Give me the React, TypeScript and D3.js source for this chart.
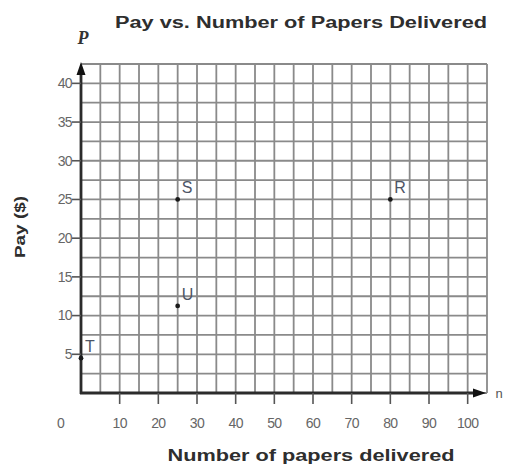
import React from "react";
import { scaleLinear, range } from "d3";

// data
const pointNames = ["S", "R", "U", "T"];
const papers = [25, 80, 25, 0];
const pay = [25, 25, 11.25, 4.5];

const xTicks = [10, 20, 30, 40, 50, 60, 70, 80, 90, 100];
const yTicks = [5, 10, 15, 20, 25, 30, 35, 40];

const W = 510;
const H = 468;

export default function App() {
  const x = scaleLinear().domain([0, 105]).range([81, 487]);
  const y = scaleLinear().domain([0, 42.5]).range([393, 64]);

  const xGrid = range(0, 105.1, 5);
  const yGrid = range(0, 42.6, 2.5);

  const gridColor = "#8a8a8a";
  const axisColor = "#2b2b2b";
  const tickText = "#666";
  const font = "'Liberation Sans', Arial, sans-serif";

  return (
    <svg
      width={W}
      height={H}
      style={{ position: "absolute", left: 0, top: 0, background: "#fff" }}
      fontFamily={font}
    >
      {/* grid */}
      {xGrid.map((v, i) => (
        <line key={"gx" + i} x1={x(v)} x2={x(v)} y1={y(42.5)} y2={y(0)}
          stroke={gridColor} strokeWidth={1.8} />
      ))}
      {yGrid.map((v, i) => (
        <line key={"gy" + i} x1={x(0)} x2={x(105)} y1={y(v)} y2={y(v)}
          stroke={gridColor} strokeWidth={1.8} />
      ))}

      {/* axes */}
      <line x1={x(0)} x2={x(0)} y1={y(0) + 1} y2={y(42.5) + 8} stroke={axisColor} strokeWidth={2.8} />
      <path d={`M${x(0)},${y(42.5) - 2} L${x(0) - 4.5},${y(42.5) + 11} L${x(0) + 4.5},${y(42.5) + 11} Z`} fill="#111" />
      <line x1={x(0) - 1} x2={x(105) - 10} y1={y(0)} y2={y(0)} stroke={axisColor} strokeWidth={2.8} />
      <path d={`M${x(105) - 1},${y(0)} L${x(105) - 14},${y(0) - 4.5} L${x(105) - 14},${y(0) + 4.5} Z`} fill="#111" />

      {/* y ticks */}
      {yTicks.map((v) => (
        <g key={"yt" + v}>
          <line x1={x(0) - 9} x2={x(0)} y1={y(v)} y2={y(v)} stroke="#555" strokeWidth={1.6} />
          <text x={x(0) - 9} y={y(v)} dy="0.35em" textAnchor="end" fontSize={14} fill={tickText}
            letterSpacing={-0.6}>{v}</text>
        </g>
      ))}

      {/* x ticks */}
      {xTicks.map((v) => (
        <g key={"xt" + v}>
          <line x1={x(v)} x2={x(v)} y1={y(0)} y2={y(0) + 11} stroke="#555" strokeWidth={1.6} />
          <text x={x(v)} y={y(0) + 30} dy="0.35em" textAnchor="middle" fontSize={14} fill={tickText}
            letterSpacing={-0.6}>{v}</text>
        </g>
      ))}
      <text x={61} y={y(0) + 30} dy="0.35em" textAnchor="middle" fontSize={14} fill={tickText}>0</text>

      {/* points */}
      {pointNames.map((name, i) => (
        <g key={name}>
          <circle cx={x(papers[i])} cy={y(pay[i])} r={2.4} fill="#1a1a1a" />
          <text x={x(papers[i]) + 4} y={y(pay[i]) - 6} fontSize={16} fill="#4d5566">{name}</text>
        </g>
      ))}

      {/* titles */}
      <text x={301} y={28} textAnchor="middle" fontSize={16} fontWeight="bold" fill="#2e2e2e"
        textLength={372} lengthAdjust="spacingAndGlyphs">Pay vs. Number of Papers Delivered</text>
      <text x={83} y={44} textAnchor="middle" fontSize={18} fontStyle="italic" fontWeight="bold"
        fontFamily="'Liberation Serif', 'Times New Roman', serif" fill="#333">P</text>
      <text x={499} y={y(0)} dy="0.35em" textAnchor="middle" fontSize={13} fill="#555">n</text>
      <text x={311} y={461} textAnchor="middle" fontSize={16} fontWeight="bold" fill="#2e2e2e"
        textLength={287} lengthAdjust="spacingAndGlyphs">Number of papers delivered</text>
      <text transform={`translate(25,227) rotate(-90)`} textAnchor="middle" fontSize={15} fontWeight="bold"
        fill="#2e2e2e" textLength={62} lengthAdjust="spacingAndGlyphs">Pay ($)</text>
    </svg>
  );
}
